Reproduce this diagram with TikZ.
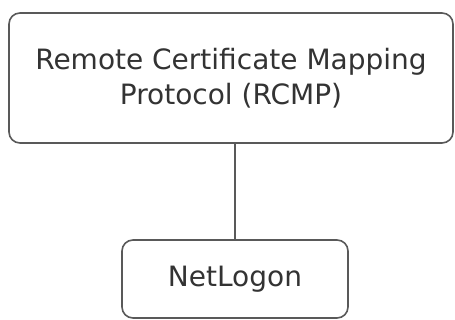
\documentclass[tikz,border=0pt]{standalone}
\usepackage{fontspec}
\setmainfont{DejaVu Sans}
\begin{document}
\begin{tikzpicture}[x=1pt,y=-1pt,
  box/.style={draw=black!65,line width=1.6pt,rounded corners=11pt,fill=white,inner sep=0pt,align=center,font=\fontsize{28}{35}\selectfont,text=black!80},
  link/.style={draw=black!65,line width=1.8pt}]
\useasboundingbox (0,0) rectangle (455,320);
\node[box,minimum width=444pt,minimum height=130pt] (rcmp) at (231,78) {Remote Certificate Mapping\\Protocol (RCMP)};
\node[box,minimum width=226pt,minimum height=78pt] (net) at (235,279) {NetLogon};
\draw[link] (rcmp.south -| net.north) -- (net.north);
\end{tikzpicture}
\end{document}
